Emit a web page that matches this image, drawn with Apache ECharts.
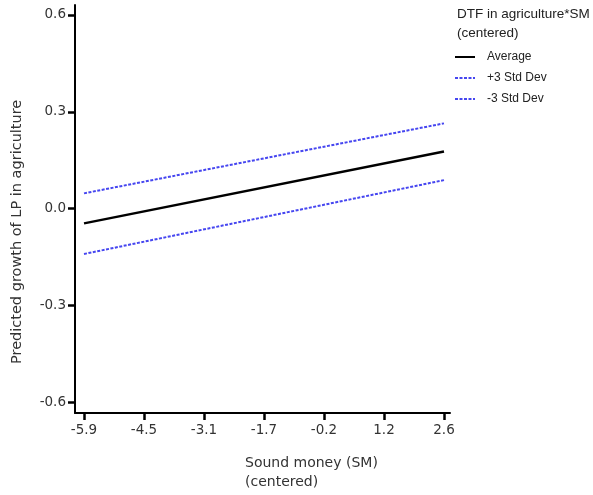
<!DOCTYPE html>
<html>
<head>
<meta charset="utf-8">
<script src="https://cdn.jsdelivr.net/npm/echarts@6/dist/echarts.min.js"></script>
<style>html,body{margin:0;padding:0;background:#fff;}#c{width:593px;height:495px;}</style>
</head>
<body>
<div id="c"></div>
<script>
// Data
var xValues = [-5.9, 2.6];
var average = [-0.046, 0.177];
var plus3SD = [0.047, 0.264];
var minus3SD = [-0.141, 0.088];
var xTickLabels = ['-5.9', '-4.5', '-3.1', '-1.7', '-0.2', '1.2', '2.6'];
var yTickValues = [-0.6, -0.3, 0.0, 0.3, 0.6];
var seriesNames = ['Average', '+3 Std Dev', '-3 Std Dev'];

var xStep = (xValues[1] - xValues[0]) / (xTickLabels.length - 1);
var xTickPos = xTickLabels.map(function (_, i) { return xValues[0] + i * xStep; });

function pairs(ys) { return xValues.map(function (x, i) { return [x, ys[i]]; }); }

var axisFont = 'DejaVu Sans, Verdana, sans-serif';
var legFont = 'Liberation Sans, Arial, sans-serif';
var blue = '#4646f0';
var chart = echarts.init(document.getElementById('c'));
chart.setOption({
  animation: false,
  backgroundColor: '#fff',
  grid: { left: 75, top: 5, right: 143, bottom: 82, containLabel: false },
  xAxis: {
    type: 'value', min: -6.1125, max: 2.742,
    axisLine: { show: true, onZero: false, lineStyle: { color: '#000', width: 2 } },
    axisTick: { show: true, inside: false, length: 7, lineStyle: { color: '#000', width: 2.5 }, customValues: xTickPos },
    axisLabel: {
      customValues: xTickPos, color: '#333', fontFamily: axisFont, fontSize: 13.5, margin: 10,
      formatter: function (v) { return xTickLabels[Math.round((v - xValues[0]) / xStep)]; }
    },
    splitLine: { show: false }
  },
  yAxis: {
    type: 'value', min: -0.634, max: 0.631,
    axisLine: { show: true, onZero: false, lineStyle: { color: '#000', width: 2 } },
    axisTick: { show: true, inside: false, length: 7, lineStyle: { color: '#000', width: 2.5 }, customValues: yTickValues },
    axisLabel: {
      customValues: yTickValues, color: '#333', fontFamily: axisFont, fontSize: 13.5, margin: 9,
      formatter: function (v) { return v.toFixed(1); }
    },
    splitLine: { show: false }
  },
  legend: {
    orient: 'vertical', left: 454, top: 51, padding: 0,
    itemWidth: 20, itemHeight: 12, itemGap: 9,
    itemStyle: { opacity: 0 },
    textStyle: { fontFamily: legFont, fontSize: 12, color: '#222', padding: [0, 0, 0, 7] },
    data: seriesNames
  },
  graphic: [
    { type: 'text', left: 457, top: 5, style: { text: 'DTF in agriculture*SM\n(centered)', fontFamily: legFont, fontSize: 13.5, lineHeight: 19, fill: '#222' } },
    { type: 'text', left: 245, top: 454, style: { text: 'Sound money (SM)\n(centered)', fontFamily: axisFont, fontSize: 14, lineHeight: 19, fill: '#333' } },
    { type: 'text', x: 10, y: 364, rotation: Math.PI / 2, style: { text: 'Predicted growth of LP in agriculture', fontFamily: axisFont, fontSize: 14.5, fill: '#333', verticalAlign: 'top', align: 'left' } }
  ],
  series: [
    { name: seriesNames[0], type: 'line', data: pairs(average), symbol: 'none', lineStyle: { color: '#000', width: 2.5 }, itemStyle: { color: '#000' } },
    { name: seriesNames[1], type: 'line', data: pairs(plus3SD), symbol: 'none', lineStyle: { color: blue, width: 2, type: [3, 1.5] }, itemStyle: { color: blue } },
    { name: seriesNames[2], type: 'line', data: pairs(minus3SD), symbol: 'none', lineStyle: { color: blue, width: 2, type: [3, 1.5] }, itemStyle: { color: blue } }
  ]
});
</script>
</body>
</html>
